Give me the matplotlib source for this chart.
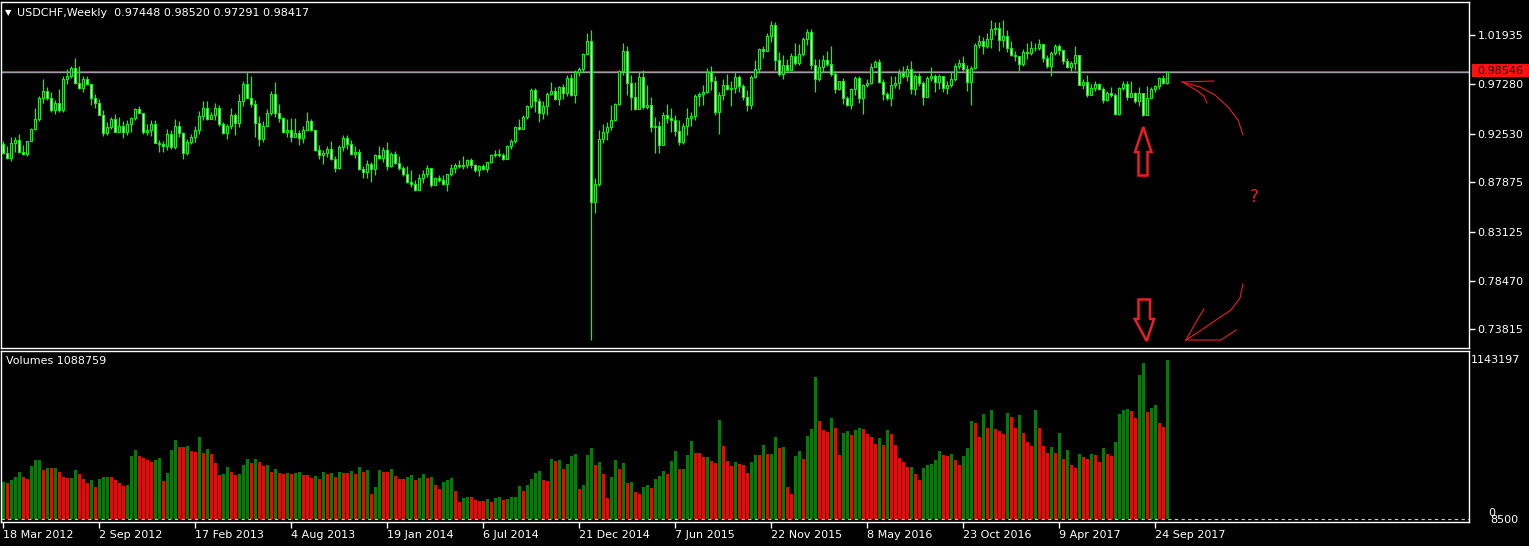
import matplotlib
matplotlib.use("Agg")
import matplotlib.pyplot as plt
import numpy as np
from matplotlib.lines import Line2D
from matplotlib.patches import Polygon, Rectangle

# weekly USDCHF candles, prices in thousandths (open = previous close)
first_open = 915
closes = [
    907, 902, 916, 919, 908, 906, 918, 930, 939, 959,
    966, 959, 948, 955, 948, 977, 980, 988, 974, 969,
    977, 973, 959, 955, 943, 926, 932, 939, 927, 933,
    927, 934, 940, 949, 945, 927, 929, 934, 916, 915,
    913, 925, 912, 933, 926, 907, 917, 922, 929, 942,
    950, 939, 943, 950, 934, 926, 933, 943, 935, 956,
    973, 959, 954, 935, 920, 933, 945, 963, 945, 940,
    927, 929, 922, 926, 921, 929, 937, 929, 910, 905,
    907, 911, 901, 892, 912, 921, 915, 906, 908, 891,
    889, 896, 891, 905, 902, 910, 894, 906, 897, 892,
    887, 879, 877, 871, 883, 887, 892, 876, 883, 881,
    877, 887, 892, 895, 894, 895, 900, 895, 890, 894,
    891, 898, 905, 906, 905, 901, 913, 918, 932, 930,
    941, 952, 967, 956, 945, 952, 963, 966, 958, 970,
    964, 978, 962, 984, 987, 1001, 1014, 860, 877, 920,
    927, 932, 938, 954, 985, 1004, 974, 960, 949, 979,
    951, 953, 932, 933, 914, 943, 940, 938, 928, 917,
    933, 940, 942, 961, 963, 965, 984, 976, 946, 962,
    972, 968, 969, 979, 971, 960, 953, 979, 987, 1006,
    1004, 1019, 1029, 996, 982, 991, 986, 999, 993, 1001,
    1016, 1022, 991, 977, 989, 996, 992, 982, 968, 976,
    959, 953, 968, 978, 959, 972, 974, 989, 994, 975,
    963, 959, 972, 974, 983, 980, 987, 968, 980, 974,
    960, 978, 980, 975, 980, 969, 972, 977, 990, 993,
    987, 975, 988, 1010, 1014, 1009, 1016, 1025, 1026, 1015,
    1019, 1007, 1000, 999, 992, 1003, 1002, 1007, 1007, 1011,
    998, 990, 1002, 1009, 1005, 995, 989, 993, 1000, 972,
    975, 962, 969, 973, 968, 957, 964, 962, 944, 969,
    973, 960, 964, 956, 964, 943, 959, 968, 971, 978,
    974, 984,
]
highs = [
    918, 913, 922, 922, 925, 914, 918, 931, 950, 961,
    977, 970, 965, 957, 968, 980, 987, 990, 998, 990,
    980, 980, 973, 963, 958, 948, 936, 941, 944, 941,
    937, 938, 941, 950, 952, 945, 934, 938, 938, 919,
    918, 930, 929, 939, 937, 927, 920, 925, 933, 947,
    956, 956, 946, 955, 953, 936, 934, 950, 945, 963,
    976, 984, 980, 957, 942, 937, 949, 966, 975, 954,
    941, 939, 940, 940, 929, 933, 946, 939, 928, 914,
    910, 913, 918, 904, 914, 924, 924, 919, 913, 911,
    894, 900, 898, 906, 913, 912, 917, 908, 909, 904,
    894, 894, 890, 881, 887, 890, 895, 892, 884, 886,
    886, 887, 896, 897, 900, 904, 901, 902, 896, 895,
    896, 898, 906, 910, 911, 907, 914, 920, 933, 939,
    943, 953, 969, 969, 959, 956, 965, 975, 970, 971,
    973, 981, 982, 986, 989, 1002, 1021, 1024, 883, 929,
    934, 936, 953, 955, 986, 1012, 1009, 981, 975, 984,
    986, 972, 960, 941, 937, 946, 954, 950, 943, 938,
    935, 950, 946, 963, 965, 972, 988, 990, 980, 965,
    977, 982, 976, 984, 981, 973, 967, 981, 996, 1007,
    1009, 1021, 1033, 1032, 1003, 1000, 997, 1002, 1012, 1011,
    1018, 1025, 1025, 997, 997, 1000, 1004, 1009, 985, 976,
    978, 961, 969, 980, 980, 973, 977, 993, 996, 997,
    977, 965, 980, 980, 987, 990, 991, 995, 982, 983,
    976, 980, 989, 982, 982, 980, 976, 984, 993, 997,
    999, 991, 990, 1012, 1020, 1018, 1021, 1034, 1032, 1032,
    1034, 1024, 1014, 1004, 999, 1006, 1012, 1014, 1012, 1016,
    1011, 1000, 1004, 1011, 1011, 1005, 998, 995, 1009, 1000,
    977, 981, 973, 976, 974, 970, 966, 970, 964, 970,
    976, 976, 976, 965, 970, 961, 971, 970, 972, 979,
    981, 985,
]
lows = [
    906, 901, 899, 908, 907, 905, 904, 919, 929, 937,
    955, 957, 946, 944, 946, 946, 973, 978, 973, 968,
    965, 972, 953, 950, 943, 923, 924, 930, 927, 929,
    921, 924, 927, 938, 945, 925, 924, 923, 916, 908,
    908, 910, 911, 911, 922, 901, 905, 915, 917, 925,
    938, 938, 939, 938, 933, 925, 920, 930, 924, 932,
    952, 959, 951, 922, 913, 917, 935, 943, 941, 936,
    926, 922, 917, 922, 914, 916, 930, 928, 909, 901,
    896, 903, 900, 889, 891, 909, 911, 905, 902, 890,
    883, 883, 879, 886, 901, 898, 890, 893, 896, 890,
    885, 878, 874, 870, 871, 878, 884, 874, 876, 879,
    876, 870, 885, 888, 892, 891, 892, 892, 889, 885,
    890, 889, 897, 903, 903, 900, 902, 911, 916, 929,
    931, 939, 950, 946, 936, 939, 943, 962, 957, 953,
    958, 961, 961, 955, 980, 984, 1004, 728, 849, 875,
    916, 919, 929, 937, 953, 981, 962, 948, 948, 949,
    949, 949, 927, 907, 907, 914, 935, 927, 923, 914,
    915, 924, 933, 938, 952, 953, 964, 967, 943, 925,
    957, 967, 952, 964, 965, 957, 947, 949, 978, 983,
    998, 1004, 1013, 986, 980, 977, 985, 986, 991, 991,
    999, 1010, 987, 965, 976, 984, 990, 980, 964, 967,
    954, 952, 949, 962, 955, 944, 970, 973, 989, 974,
    957, 957, 952, 969, 968, 978, 976, 963, 962, 971,
    953, 960, 976, 965, 968, 965, 963, 970, 976, 987,
    985, 966, 953, 987, 1007, 1001, 1007, 1007, 1020, 1004,
    1008, 1003, 999, 995, 985, 990, 997, 1000, 1004, 1005,
    994, 988, 980, 1000, 1000, 992, 988, 985, 986, 972,
    968, 960, 962, 966, 967, 955, 956, 960, 943, 943,
    967, 957, 960, 955, 952, 942, 946, 959, 965, 968,
    973, 973,
]
# tick volume in thousands
volumes_k = [
    255, 248, 268, 289, 323, 289, 275, 364, 405, 407,
    337, 350, 349, 351, 323, 289, 282, 283, 337, 309,
    275, 248, 268, 220, 275, 289, 290, 289, 268, 248,
    227, 234, 432, 473, 432, 419, 405, 391, 405, 419,
    261, 316, 473, 542, 494, 491, 501, 466, 460, 562,
    453, 480, 446, 384, 302, 309, 357, 323, 302, 309,
    371, 412, 384, 412, 391, 364, 371, 323, 343, 316,
    309, 316, 309, 316, 323, 302, 301, 282, 296, 275,
    323, 309, 316, 289, 323, 316, 315, 330, 309, 357,
    323, 337, 173, 220, 337, 323, 322, 343, 296, 275,
    274, 289, 302, 268, 282, 309, 282, 289, 234, 207,
    255, 268, 282, 193, 118, 145, 152, 151, 132, 125,
    124, 138, 118, 145, 152, 132, 138, 152, 153, 227,
    193, 234, 275, 316, 330, 268, 261, 412, 398, 405,
    343, 378, 432, 446, 207, 234, 439, 487, 371, 391,
    309, 145, 289, 405, 343, 384, 248, 255, 186, 173,
    220, 234, 214, 275, 296, 330, 309, 398, 466, 343,
    344, 439, 535, 453, 452, 425, 426, 398, 384, 678,
    501, 398, 364, 391, 378, 371, 316, 391, 439, 438,
    507, 446, 447, 562, 487, 494, 220, 173, 432, 467,
    412, 569, 617, 972, 672, 610, 596, 692, 624, 439,
    590, 603, 576, 610, 624, 617, 583, 562, 514, 555,
    508, 610, 583, 508, 419, 391, 357, 358, 309, 268,
    350, 371, 378, 405, 467, 439, 432, 446, 405, 371,
    432, 487, 672, 658, 562, 719, 624, 747, 617, 603,
    583, 726, 699, 624, 713, 590, 528, 501, 747, 624,
    501, 453, 494, 453, 590, 412, 473, 371, 350, 446,
    426, 412, 446, 439, 391, 487, 446, 432, 528, 719,
    747, 754, 740, 692, 986, 1068, 733, 760, 781, 658,
    631, 1089,
]
date_ticks = [0, 24, 48, 72, 96, 120, 144, 168, 192, 216, 240, 264, 288]
date_labels = ["18 Mar 2012", "2 Sep 2012", "17 Feb 2013", "4 Aug 2013",
               "19 Jan 2014", "6 Jul 2014", "21 Dec 2014", "7 Jun 2015",
               "22 Nov 2015", "8 May 2016", "23 Oct 2016", "9 Apr 2017",
               "24 Sep 2017"]
price_ticks = [1.01935, 0.97280, 0.92530, 0.87875, 0.83125, 0.78470, 0.73815]
ask_price = 0.98546
bid_price = 0.98417

W, H = 1529, 546
LIME = "#00ff00"
FS = 8

c = np.array(closes) / 1000.0
o = np.r_[first_open, closes[:-1]] / 1000.0
hi = np.maximum(np.array(highs) / 1000.0, np.maximum(o, c))
lo = np.minimum(np.array(lows) / 1000.0, np.minimum(o, c))
x = np.arange(len(c))
vol = np.array(volumes_k) * 1000.0


def rect(x0, y0, x1, y1):
    return [x0 / W, 1 - y1 / H, (x1 - x0) / W, (y1 - y0) / H]


def P(px, py):
    return (px / W, 1 - py / H)


fig = plt.figure(figsize=(W / 100, H / 100), dpi=100, facecolor="black")
ax = fig.add_axes(rect(1, 2.4, 1469, 347.7))
axv = fig.add_axes(rect(1, 350.5, 1469, 522))

for a in (ax, axv):
    a.set_facecolor("black")
    for s in a.spines.values():
        s.set_color("white")
        s.set_linewidth(1)
    a.set_xlim(-0.575, 366.4)

# price pane
ax.vlines(x, lo, hi, color=LIME, lw=0.8, zorder=2)
body_col = np.where(c >= o, "black", "white")
ax.bar(x, np.abs(c - o), bottom=np.minimum(o, c), width=0.55,
       color=body_col, edgecolor=LIME, linewidth=0.8, zorder=3)
ax.axhline(bid_price, color="#9aa4b0", lw=1, zorder=1)
ax.axhline(ask_price, color="#ff2020", lw=0.8, zorder=1)
ax.set_ylim(0.7206, 1.0507)
ax.set_xticks([])
ax.yaxis.tick_right()
ax.set_yticks(price_ticks)
ax.set_yticklabels([f"{v:.5f}" for v in price_ticks])
ax.tick_params(axis="y", colors="white", length=4, width=1, pad=2,
               labelsize=FS)

# volume pane
vcol = ["#008000"] + ["#008000" if vol[i] > vol[i - 1] else "#ff0000"
                      for i in range(1, len(vol))]
axv.bar(x, vol, width=0.68, color=vcol, linewidth=0)
axv.axhline(0, color="#c8c8c8", lw=0.8, ls=(0, (3, 3)))
axv.set_ylim(-18450, 1153400)
axv.set_yticks([])
axv.set_xticks(date_ticks)
axv.set_xticklabels(date_labels)
axv.tick_params(axis="x", colors="white", length=4, width=1, pad=2,
                labelsize=FS)
for t in axv.get_xticklabels():
    t.set_ha("left")

# texts
fig.text(*P(5, 13), "▼", color="white", fontsize=6, va="center")
fig.text(*P(17, 13), "USDCHF,Weekly  0.97448 0.98520 0.97291 0.98417",
         color="white", fontsize=FS, va="center")
fig.text(*P(6, 361), "Volumes 1088759", color="white", fontsize=FS,
         va="center")
fig.text(*P(1471, 360), "1143197", color="white", fontsize=FS, va="center")
fig.text(*P(1488, 513), "0", color="white", fontsize=FS, va="center")
fig.text(*P(1490, 520), "8500", color="white", fontsize=FS, va="center")
fig.add_artist(Rectangle(P(1471.5, 77), 57.5 / W, 12.7 / H, facecolor="#ff1010",
                         edgecolor="none", transform=fig.transFigure))
fig.text(*P(1477, 70.5), "0.98546", color="#1a0000", fontsize=FS,
         va="center")

# hand drawn marks
RED = "#ee1c24"
up = [(1143.3, 127), (1151.5, 152), (1147.5, 152), (1147.5, 175.5),
      (1138.5, 175.5), (1138.5, 152), (1135, 152)]
down = [(1138.5, 299.5), (1150, 299.5), (1150, 319), (1154, 319),
        (1146.7, 341), (1134.8, 319), (1138.5, 319)]
for poly in (up, down):
    fig.add_artist(Polygon([P(*p) for p in poly], closed=True,
                           facecolor="black", edgecolor=RED, lw=1.8,
                           joinstyle="miter", transform=fig.transFigure))

strokes = [
    [(1182, 82), (1214, 81)],
    [(1182, 82), (1200, 87), (1215, 95), (1228, 107), (1238, 120),
     (1243, 135)],
    [(1184, 83), (1196, 90), (1204, 96), (1207, 103)],
    [(1243, 284), (1240, 298), (1231, 310), (1216, 320), (1200, 331),
     (1186, 340)],
    [(1186, 340), (1221, 340), (1236, 330)],
    [(1186, 340), (1196, 322), (1204, 309)],
]
for s in strokes:
    xs, ys = zip(*[P(*p) for p in s])
    fig.add_artist(Line2D(xs, ys, color=RED, lw=0.8,
                          transform=fig.transFigure))
fig.text(*P(1254, 197), "?", color=RED, fontsize=12, ha="center",
         va="center")

fig.savefig("out.png", dpi=100, facecolor="black")
